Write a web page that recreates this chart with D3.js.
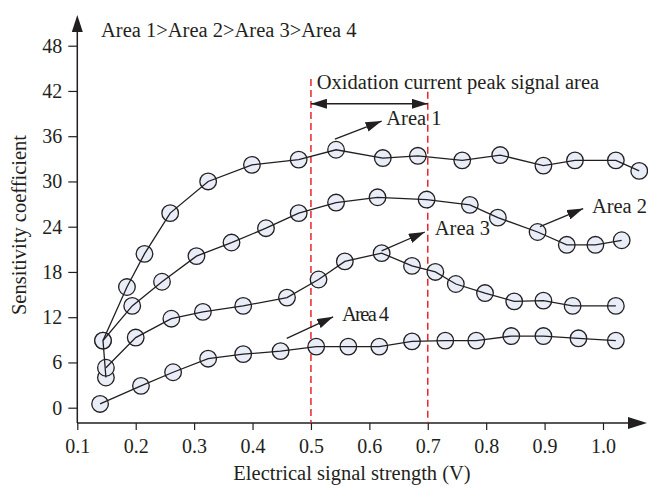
<!DOCTYPE html>
<html>
<head>
<meta charset="utf-8">
<script src="https://cdn.jsdelivr.net/npm/d3@7"></script>
<style>
  body { margin: 0; background: #fff; }
  text { font-family: "Liberation Serif", "Times New Roman", serif; fill: #231f20; }
</style>
</head>
<body>
<svg id="chart"></svg>
<script>
// values
const xTicks = [0.1, 0.2, 0.3, 0.4, 0.5, 0.6, 0.7, 0.8, 0.9, 1.0]
const yTicks = [0, 6, 12, 18, 24, 30, 36, 42, 48]

const area1X = [0.144, 0.185, 0.215, 0.259, 0.324, 0.399, 0.479, 0.543, 0.623, 0.683, 0.759, 0.824, 0.898, 0.952, 1.022, 1.062]
const area1Y = [8.9, 16.0, 20.4, 25.8, 30.0, 32.2, 32.9, 34.2, 33.1, 33.4, 32.8, 33.5, 32.1, 32.8, 32.8, 31.4]

const area2X = [0.149, 0.144, 0.194, 0.245, 0.304, 0.364, 0.423, 0.479, 0.543, 0.614, 0.698, 0.772, 0.820, 0.888, 0.938, 0.987, 1.032]
const area2Y = [4.0, 8.9, 13.5, 16.7, 20.1, 21.9, 23.8, 25.8, 27.2, 27.9, 27.6, 26.9, 25.2, 23.3, 21.6, 21.6, 22.2]

const area3X = [0.149, 0.200, 0.261, 0.315, 0.384, 0.459, 0.513, 0.558, 0.621, 0.673, 0.713, 0.748, 0.798, 0.848, 0.898, 0.948, 1.022]
const area3Y = [5.3, 9.3, 11.8, 12.7, 13.5, 14.6, 17.0, 19.4, 20.5, 18.8, 18.0, 16.4, 15.2, 14.1, 14.2, 13.5, 13.5]

const area4X = [0.139, 0.209, 0.264, 0.324, 0.384, 0.448, 0.509, 0.564, 0.617, 0.673, 0.730, 0.783, 0.843, 0.898, 0.958, 1.022]
const area4Y = [0.5, 2.9, 4.7, 6.5, 7.1, 7.5, 8.1, 8.1, 8.1, 8.8, 8.9, 8.9, 9.5, 9.5, 9.2, 8.9]

const peakBounds = [0.5, 0.7]
const peakTops = [43.6, 41.9]
const peakArrowY = 40.3

// label arrows: [x0, y0, x1, y1] in data units, then label position
const labels = [
  { text: 'Area 1', arrow: [0.541, 35.6, 0.621, 38.0], at: [0.629, 37.5] },
  { text: 'Area 2', arrow: [0.892, 24.0, 0.966, 26.4], at: [0.981, 25.8] },
  { text: 'Area 3', arrow: [0.621, 20.8, 0.695, 23.3], at: [0.712, 22.9] },
  { text: 'Area 4', arrow: [0.4585, 9.2, 0.538, 12.05], at: [0.553, 11.5], tight: true }
]

const width = 648
const height = 489
const axisY = 423
const fontSize = 20.5
const tickFont = 20

const svg = d3.select('#chart').attr('width', width).attr('height', height)

const x = d3.scaleLinear().domain([0.1, 1.0]).range([77.3, 603])
const y = d3.scaleLinear().domain([0, 48]).range([407.7, 45.7])

const defs = svg.append('defs')
defs.append('marker')
  .attr('id', 'head')
  .attr('viewBox', '0 0 10 10')
  .attr('refX', 10).attr('refY', 5)
  .attr('markerUnits', 'userSpaceOnUse')
  .attr('markerWidth', 16).attr('markerHeight', 10)
  .attr('preserveAspectRatio', 'none')
  .attr('orient', 'auto-start-reverse')
  .append('path').attr('d', 'M0,0 L10,5 L0,10 z').attr('fill', '#231f20')

// axes
const xAxis = d3.axisBottom(x).tickValues(xTicks).tickSize(7).tickPadding(9).tickFormat(d3.format('.1f'))
const yAxis = d3.axisLeft(y).tickValues(yTicks).tickSize(9).tickPadding(6)

const gx = svg.append('g').attr('transform', 'translate(0,' + axisY + ')').call(xAxis)
const gy = svg.append('g').attr('transform', 'translate(' + x(0.1) + ',0)').call(yAxis)
;[gx, gy].forEach(g => {
  g.select('.domain').remove()
  g.selectAll('line').attr('stroke', '#231f20').attr('stroke-width', 1.2)
  g.selectAll('text').style('font-size', tickFont + 'px').attr('fill', '#231f20')
    .style('font-family', '"Liberation Serif", "Times New Roman", serif')
})

const x0 = x(0.1)
svg.append('path')
  .attr('d', 'M' + x0 + ',' + axisY + 'H630 M' + x0 + ',' + axisY + 'V30')
  .attr('stroke', '#231f20').attr('stroke-width', 1.5).attr('fill', 'none')
svg.append('path')
  .attr('d', 'M628,' + (axisY - 6) + 'L647,' + axisY + 'L628,' + (axisY + 6) + 'Z')
  .attr('fill', '#231f20')
svg.append('path')
  .attr('d', 'M' + (x0 - 5.5) + ',32L' + x0 + ',15L' + (x0 + 5.5) + ',32Z')
  .attr('fill', '#231f20')

svg.append('text')
  .attr('x', 352).attr('y', 480)
  .attr('text-anchor', 'middle')
  .style('font-size', fontSize + 'px')
  .text('Electrical signal strength (V)')

svg.append('text')
  .attr('transform', 'translate(26,225) rotate(-90)')
  .attr('text-anchor', 'middle')
  .style('font-size', fontSize + 'px')
  .text('Sensitivity coefficient')

svg.append('text')
  .attr('x', x(0.1406)).attr('y', y(49.1))
  .style('font-size', fontSize + 'px')
  .text('Area 1>Area 2>Area 3>Area 4')

// peak signal region
peakBounds.forEach((b, i) => {
  svg.append('line')
    .attr('x1', x(b)).attr('x2', x(b))
    .attr('y1', y(peakTops[i])).attr('y2', axisY)
    .attr('stroke', '#e8262b').attr('stroke-width', 1.5)
    .attr('stroke-dasharray', '7,4')
})
svg.append('line')
  .attr('x1', x(peakBounds[0])).attr('x2', x(peakBounds[1]))
  .attr('y1', y(peakArrowY)).attr('y2', y(peakArrowY))
  .attr('stroke', '#231f20').attr('stroke-width', 1.3)
  .attr('marker-start', 'url(#head)').attr('marker-end', 'url(#head)')
svg.append('text')
  .attr('x', x(0.51)).attr('y', y(42.2))
  .style('font-size', fontSize + 'px')
  .text('Oxidation current peak signal area')

// series
const series = [
  d3.zip(area1X, area1Y),
  d3.zip(area2X, area2Y),
  d3.zip(area3X, area3Y),
  d3.zip(area4X, area4Y)
]
const line = d3.line().x(d => x(d[0])).y(d => y(d[1]))

series.forEach(s => {
  svg.append('g').selectAll('circle')
    .data(s)
    .join('circle')
    .attr('cx', d => x(d[0]))
    .attr('cy', d => y(d[1]))
    .attr('r', 8.3)
    .attr('fill', '#e9edf8')
    .attr('stroke', '#231f20')
    .attr('stroke-width', 1.3)
})
series.forEach(s => {
  svg.append('path')
    .datum(s)
    .attr('d', line)
    .attr('fill', 'none')
    .attr('stroke', '#231f20')
    .attr('stroke-width', 1.3)
})

// area labels with arrows
labels.forEach(l => {
  svg.append('line')
    .attr('x1', x(l.arrow[0])).attr('y1', y(l.arrow[1]))
    .attr('x2', x(l.arrow[2])).attr('y2', y(l.arrow[3]))
    .attr('stroke', '#231f20').attr('stroke-width', 1.3)
    .attr('marker-end', 'url(#head)')
  svg.append('text')
    .attr('x', x(l.at[0])).attr('y', y(l.at[1]))
    .style('font-size', fontSize + 'px')
    .style('letter-spacing', l.tight ? '-1.6px' : null)
    .text(l.text)
})
</script>
</body>
</html>
